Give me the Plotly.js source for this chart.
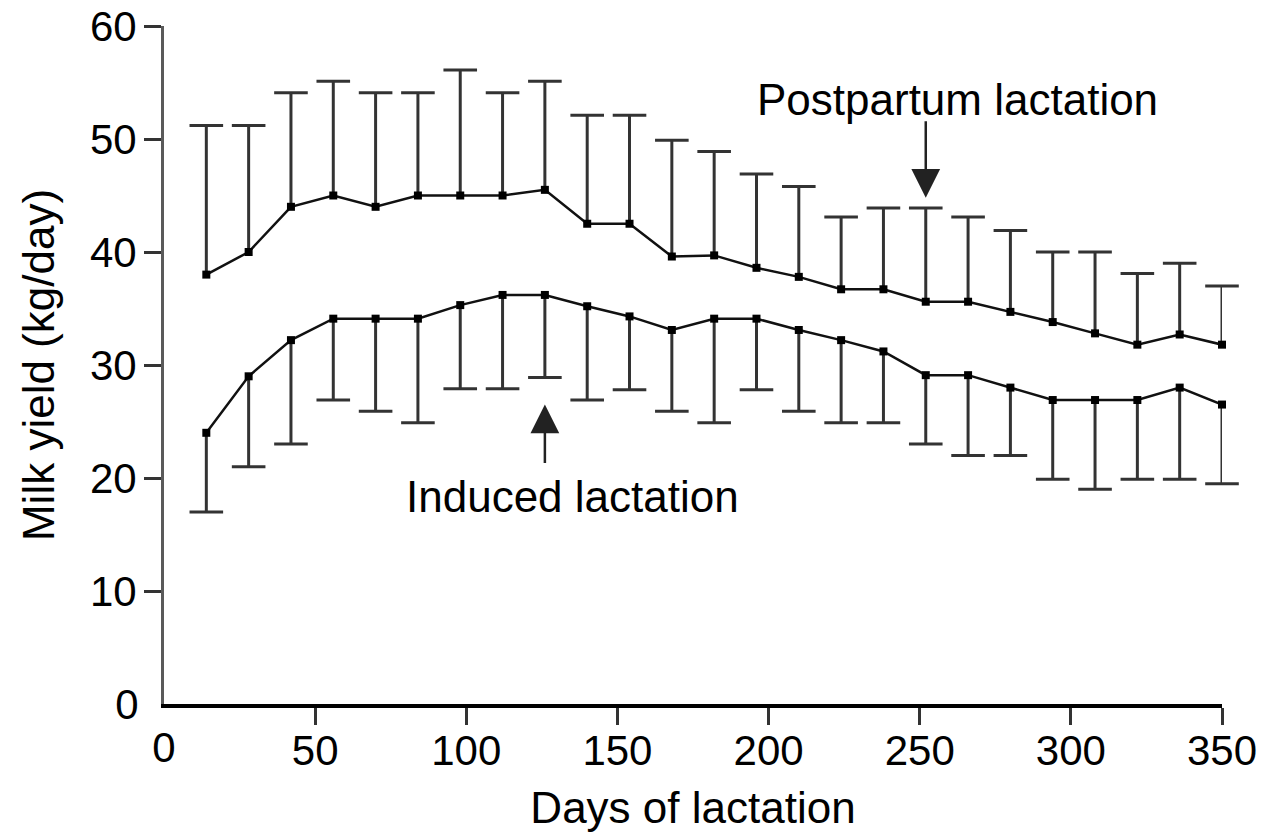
<!DOCTYPE html>
<html>
<head>
<meta charset="utf-8">
<script src="https://cdn.plot.ly/plotly-3.0.1.min.js"></script>
<style>html,body{margin:0;padding:0;background:#fff;}#chart{width:1261px;height:832px;}</style>
</head>
<body>
<div id="chart"></div>
<script>
// Days of lactation (x)
var days = [14, 28, 42, 56, 70, 84, 98, 112, 126, 140, 154, 168, 182, 196, 210, 224, 238, 252, 266, 280, 294, 308, 322, 336, 350];

// Postpartum lactation: mean and upper end of error bar (kg/day)
var postpartumMean = [38, 40, 44, 45, 44, 45, 45, 45, 45.5, 42.5, 42.5, 39.6, 39.7, 38.6, 37.8, 36.7, 36.7, 35.6, 35.6, 34.7, 33.8, 32.8, 31.8, 32.7, 31.8];
var postpartumUpper = [51.2, 51.2, 54.1, 55.1, 54.1, 54.1, 56.1, 54.1, 55.1, 52.1, 52.1, 49.9, 48.9, 46.9, 45.8, 43.1, 43.9, 43.9, 43.1, 41.9, 40, 40, 38.1, 39, 37];

// Induced lactation: mean and lower end of error bar (kg/day)
var inducedMean = [24, 29, 32.2, 34.1, 34.1, 34.1, 35.3, 36.2, 36.2, 35.2, 34.3, 33.1, 34.1, 34.1, 33.1, 32.2, 31.2, 29.1, 29.1, 28, 26.9, 26.9, 26.9, 28, 26.5];
var inducedLower = [17, 21, 23, 26.9, 25.9, 24.9, 27.9, 27.9, 28.9, 26.9, 27.8, 25.9, 24.9, 27.8, 25.9, 24.9, 24.9, 23, 22, 22, 19.9, 19, 19.9, 19.9, 19.5];

// Axis ticks and labels
var xTicks = [50, 100, 150, 200, 250, 300, 350];
var yTicks = [10, 20, 30, 40, 50, 60];
var xTitle = 'Days of lactation';
var yTitle = 'Milk yield (kg/day)';
var postpartumLabel = 'Postpartum lactation';
var inducedLabel = 'Induced lactation';

var postErr = postpartumUpper.map(function (u, i) { return u - postpartumMean[i]; });
var indErr = inducedMean.map(function (m, i) { return m - inducedLower[i]; });
var zeros = days.map(function () { return 0; });

var FONT = 'Liberation Sans, Arial, sans-serif';
var ERR = '#333';
var errStyle = { color: ERR, thickness: 3, width: 0 };
var capMarker = { symbol: 'line-ew', size: 24, color: ERR, line: { color: ERR, width: 3 } };

var traces = [
  // caps of the error bars
  { x: days, y: postpartumUpper, type: 'scatter', mode: 'markers', marker: capMarker, cliponaxis: false, hoverinfo: 'skip', showlegend: false },
  { x: days, y: inducedLower, type: 'scatter', mode: 'markers', marker: capMarker, cliponaxis: false, hoverinfo: 'skip', showlegend: false },
  {
    x: days, y: postpartumMean, type: 'scatter', mode: 'lines+markers', cliponaxis: false,
    line: { color: '#111', width: 2.5 },
    marker: { symbol: 'square', size: 8, color: '#000' },
    error_y: Object.assign({ type: 'data', symmetric: false, array: postErr, arrayminus: zeros, visible: true }, errStyle),
    hoverinfo: 'x+y', showlegend: false
  },
  {
    x: days, y: inducedMean, type: 'scatter', mode: 'lines+markers', cliponaxis: false,
    line: { color: '#111', width: 2.5 },
    marker: { symbol: 'square', size: 8, color: '#000' },
    error_y: Object.assign({ type: 'data', symmetric: false, array: zeros, arrayminus: indErr, visible: true }, errStyle),
    hoverinfo: 'x+y', showlegend: false
  },
  { x: [0], y: [0], xaxis: 'x2', yaxis: 'y2', type: 'scatter', mode: 'markers', marker: { opacity: 0 }, hoverinfo: 'skip', showlegend: false }
];

var tickFont = { family: FONT, size: 42, color: '#000' };
var textFont = { family: FONT, size: 44, color: '#000' };

var layout = {
  width: 1261, height: 832,
  margin: { l: 164, r: 39, t: 26, b: 128 },
  paper_bgcolor: '#fff', plot_bgcolor: '#fff',
  font: { family: FONT, color: '#000' },
  xaxis: {
    range: [0, 350], tickvals: xTicks, ticks: 'outside', ticklen: 17, tickwidth: 3, tickcolor: '#333',
    showline: true, linecolor: '#000', linewidth: 4, showgrid: false, zeroline: false,
    tickfont: tickFont, ticklabelstandoff: -10,
    title: { text: xTitle, font: textFont, standoff: 28 }
  },
  yaxis: {
    range: [0, 60], tickvals: yTicks, ticks: 'outside', ticklen: 17, tickwidth: 3, tickcolor: '#333',
    showline: true, linecolor: '#5a5a5a', linewidth: 3, showgrid: false, zeroline: false,
    tickfont: tickFont, ticklabelstandoff: -1,
    title: { text: yTitle, font: textFont, standoff: 22 }
  },
  xaxis2: {
    overlaying: 'x', anchor: 'y2', side: 'bottom', range: [0, 350], tickvals: [0], ticks: 'outside', ticklen: 17, tickcolor: 'rgba(0,0,0,0)',
    showline: false, showgrid: false, zeroline: false, tickfont: tickFont, ticklabelstandoff: -10
  },
  yaxis2: {
    overlaying: 'y', anchor: 'x2', side: 'left', range: [0, 60], tickvals: [0], ticks: 'outside', ticklen: 17, tickcolor: 'rgba(0,0,0,0)',
    showline: false, showgrid: false, zeroline: false, tickfont: tickFont, ticklabelstandoff: -1
  },
  annotations: [
    { xref: 'x', yref: 'y', x: 262.4, y: 53.5, text: postpartumLabel, showarrow: false, xanchor: 'center', yanchor: 'middle',
      font: textFont },
    { xref: 'x', yref: 'y', x: 252, y: 44.8, text: '', showarrow: true, axref: 'pixel', ayref: 'pixel', ax: 0, ay: -78,
      arrowhead: 2, arrowsize: 2.3, arrowwidth: 2.5, arrowcolor: '#222' },
    { xref: 'x', yref: 'y', x: 135.3, y: 18.4, text: inducedLabel, showarrow: false, xanchor: 'center', yanchor: 'middle',
      font: textFont },
    { xref: 'x', yref: 'y', x: 126, y: 26.5, text: '', showarrow: true, axref: 'pixel', ayref: 'pixel', ax: 0, ay: 60,
      arrowhead: 2, arrowsize: 2.3, arrowwidth: 2.5, arrowcolor: '#222' }
  ]
};

Plotly.newPlot('chart', traces, layout, { displayModeBar: false, staticPlot: true });
</script>
</body>
</html>
